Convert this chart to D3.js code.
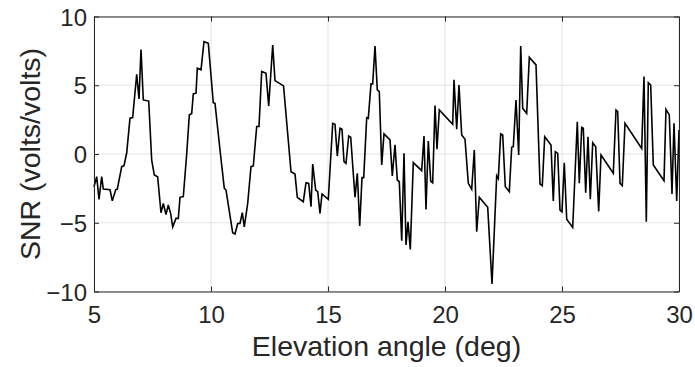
<!DOCTYPE html>
<html>
<head>
<meta charset="utf-8">
<script src="https://cdn.jsdelivr.net/npm/d3@7"></script>
<style>
  body { margin: 0; background: #fff; }
  text { font-family: "Liberation Sans", Arial, Helvetica, sans-serif; }
</style>
</head>
<body>
<div id="chart"></div>
<script>
// elevation angle (deg)
const elevation = [
  5.00, 5.115, 5.214, 5.329, 5.397, 5.684, 5.782, 5.927, 5.996, 6.184,
  6.282, 6.397, 6.538, 6.652, 6.825, 6.923, 7.009, 7.107, 7.338, 7.466,
  7.577, 7.72, 7.863, 7.962, 8.077, 8.175, 8.278, 8.363, 8.504, 8.603,
  8.675, 8.816, 8.962, 9.073, 9.175, 9.244, 9.359, 9.415, 9.573, 9.701,
  9.885, 10.098, 10.171, 10.385, 10.568, 10.641, 10.927, 11.026, 11.141, 11.239,
  11.338, 11.423, 11.568, 11.709, 11.808, 11.953, 12.051, 12.167, 12.35, 12.466,
  12.637, 12.735, 13.1, 13.419, 13.59, 13.688, 13.944, 14.06, 14.175, 14.274,
  14.346, 14.474, 14.56, 14.658, 14.744, 15.013, 15.201, 15.299, 15.397, 15.513,
  15.598, 15.684, 15.769, 15.885, 15.97, 16.154, 16.252, 16.355, 16.453, 16.526,
  16.654, 16.722, 16.838, 16.91, 17.009, 17.107, 17.192, 17.295, 17.393, 17.65,
  17.748, 17.863, 17.962, 18.047, 18.15, 18.248, 18.333, 18.419, 18.517, 18.645,
  19.004, 19.103, 19.188, 19.286, 19.389, 19.474, 19.573, 19.658, 19.756, 20.329,
  20.385, 20.5, 20.598, 20.714, 20.855, 20.996, 21.141, 21.252, 21.355, 21.466,
  21.825, 22.009, 22.209, 22.278, 22.38, 22.466, 22.577, 22.748, 22.85, 22.919,
  23.034, 23.149, 23.235, 23.321, 23.491, 23.603, 23.889, 24.06, 24.158, 24.261,
  24.53, 24.628, 24.714, 24.816, 24.915, 25.0, 25.098, 25.201, 25.457, 25.654,
  25.739, 25.842, 25.91, 26.013, 26.111, 26.21, 26.312, 26.44, 26.568, 26.667,
  27.192, 27.308, 27.38, 27.479, 27.577, 27.692, 28.406, 28.504, 28.603, 28.688,
  28.79, 28.902, 29.359, 29.444, 29.585, 29.701, 29.786, 29.902, 30.0
];
// SNR (volts/volts)
const snr = [
  -2.38, -1.65, -3.3, -1.65, -2.55, -2.6, -3.4, -2.6, -2.55, -0.92,
  -0.85, 0.07, 2.6, 2.65, 5.8, 4.0, 7.6, 3.93, 3.85, -0.44,
  -1.53, -1.65, -4.27, -3.6, -4.4, -3.7, -4.35, -5.3, -4.68, -4.68,
  -3.15, -3.1, 0.0, 2.84, 2.95, 4.37, 4.42, 6.24, 6.12, 8.17,
  8.05, 3.73, 3.68, 0.29, -2.5, -2.62, -5.73, -5.82, -5.05, -5.05,
  -4.27, -5.3, -3.6, -0.92, -0.87, 2.0, 2.0, 6.0, 5.87, 3.5,
  7.93, 5.34, 4.95, -1.29, -1.46, -3.15, -3.47, -2.09, -2.14, -3.83,
  -0.73, -2.62, -2.74, -4.32, -2.91, -3.3, 2.23, 2.16, -0.15, 1.87,
  1.8, -0.56, -0.68, 1.31, 1.22, -3.15, -1.4, -5.24, -1.72, -1.72,
  2.64, 2.59, 5.1, 5.1, 7.86, 4.66, 4.54, -0.8, 1.46, 1.02,
  -1.6, 0.66, -1.89, -2.01, -6.31, 0.05, -6.62, -4.93, -6.94, -0.63,
  -1.21, 1.31, -4.03, 0.95, -1.97, -2.09, 3.52, 0.34, 3.2, 2.16,
  5.39, 1.8, 5.02, 1.38, 1.07, -2.13, -2.57, 0.29, -5.65, -3.15,
  -3.88, -9.46, -1.58, -1.78, 1.46, 1.38, -2.38, -2.74, 0.49, 0.53,
  3.93, -0.07, 7.86, 3.32, 2.96, 7.03, 6.48, -2.18, -2.3, 1.26,
  0.66, -3.42, 0.17, 0.05, -4.08, -4.2, -0.63, -4.75, -5.34, 2.35,
  -2.13, 1.94, 1.87, -2.82, 1.26, -3.28, 0.82, 0.53, -4.17, -0.07,
  -1.4, 3.2, 3.08, -2.13, -2.3, 2.23, 0.41, 5.63, -4.93, 5.19,
  5.02, -0.8, -1.94, 3.25, 2.84, -2.91, 2.23, -3.42, 1.75
];
const xTicks = [5, 10, 15, 20, 25, 30];
const yTicks = [-10, -5, 0, 5, 10];

const data = elevation.map((e, i) => ({ elev: e, snr: snr[i] }));

// layout
const width = 695, height = 367;
const margin = { top: 16.5, right: 16, bottom: 75.5, left: 94 };
const visWidth = width - margin.left - margin.right;
const visHeight = height - margin.top - margin.bottom;

const x = d3.scaleLinear().domain([5, 30]).range([0, visWidth]);
const y = d3.scaleLinear().domain([-10, 10]).range([visHeight, 0]);

const svg = d3.select('#chart').append('svg')
  .attr('width', width)
  .attr('height', height);

const g = svg.append('g')
  .attr('transform', `translate(${margin.left}, ${margin.top})`);

// grid lines
g.append('g')
  .selectAll('line')
  .data(xTicks)
  .join('line')
  .attr('x1', d => x(d)).attr('x2', d => x(d))
  .attr('y1', 0).attr('y2', visHeight)
  .attr('stroke', '#e3e3e3');
g.append('g')
  .selectAll('line')
  .data(yTicks)
  .join('line')
  .attr('x1', 0).attr('x2', visWidth)
  .attr('y1', d => y(d)).attr('y2', d => y(d))
  .attr('stroke', '#e3e3e3');

// the line
g.append('path')
  .datum(data)
  .attr('fill', 'none')
  .attr('stroke', '#000')
  .attr('stroke-width', 1.6)
  .attr('stroke-linejoin', 'miter')
  .attr('d', d3.line().x(d => x(d.elev)).y(d => y(d.snr)));

// axes, ticks pointing inwards
const axisColor = '#262626';
function styleAxis(sel) {
  sel.select('.domain').attr('stroke', axisColor);
  sel.selectAll('.tick line').attr('stroke', axisColor);
  sel.selectAll('.tick text')
    .attr('fill', axisColor)
    .style('font-size', '24px')
    .style('font-family', '"Liberation Sans", Arial, sans-serif');
}

g.append('g')
  .attr('transform', `translate(0, ${visHeight})`)
  .call(d3.axisBottom(x).tickValues(xTicks).tickSizeInner(-5).tickSizeOuter(0))
  .call(styleAxis)
  .call(a => a.selectAll('.tick text').attr('y', 31).attr('dy', 0));
g.append('g')
  .call(d3.axisTop(x).tickValues(xTicks).tickSizeInner(-5).tickSizeOuter(0).tickFormat(''))
  .call(styleAxis);
g.append('g')
  .call(d3.axisLeft(y).tickValues(yTicks).tickSizeInner(-5).tickSizeOuter(0))
  .call(styleAxis)
  .call(a => a.selectAll('.tick text').attr('x', -7).attr('dy', '0.36em'));
g.append('g')
  .attr('transform', `translate(${visWidth}, 0)`)
  .call(d3.axisRight(y).tickValues(yTicks).tickSizeInner(-5).tickSizeOuter(0).tickFormat(''))
  .call(styleAxis);

// axis labels
g.append('text')
  .attr('x', visWidth / 2)
  .attr('y', visHeight + 64)
  .attr('text-anchor', 'middle')
  .attr('fill', axisColor)
  .style('font-size', '28.5px')
  .text('Elevation angle (deg)');
g.append('text')
  .attr('transform', `translate(${40 - margin.left}, ${visHeight / 2}) rotate(-90)`)
  .attr('text-anchor', 'middle')
  .attr('fill', axisColor)
  .style('font-size', '28.5px')
  .text('SNR (volts/volts)');
</script>
</body>
</html>
